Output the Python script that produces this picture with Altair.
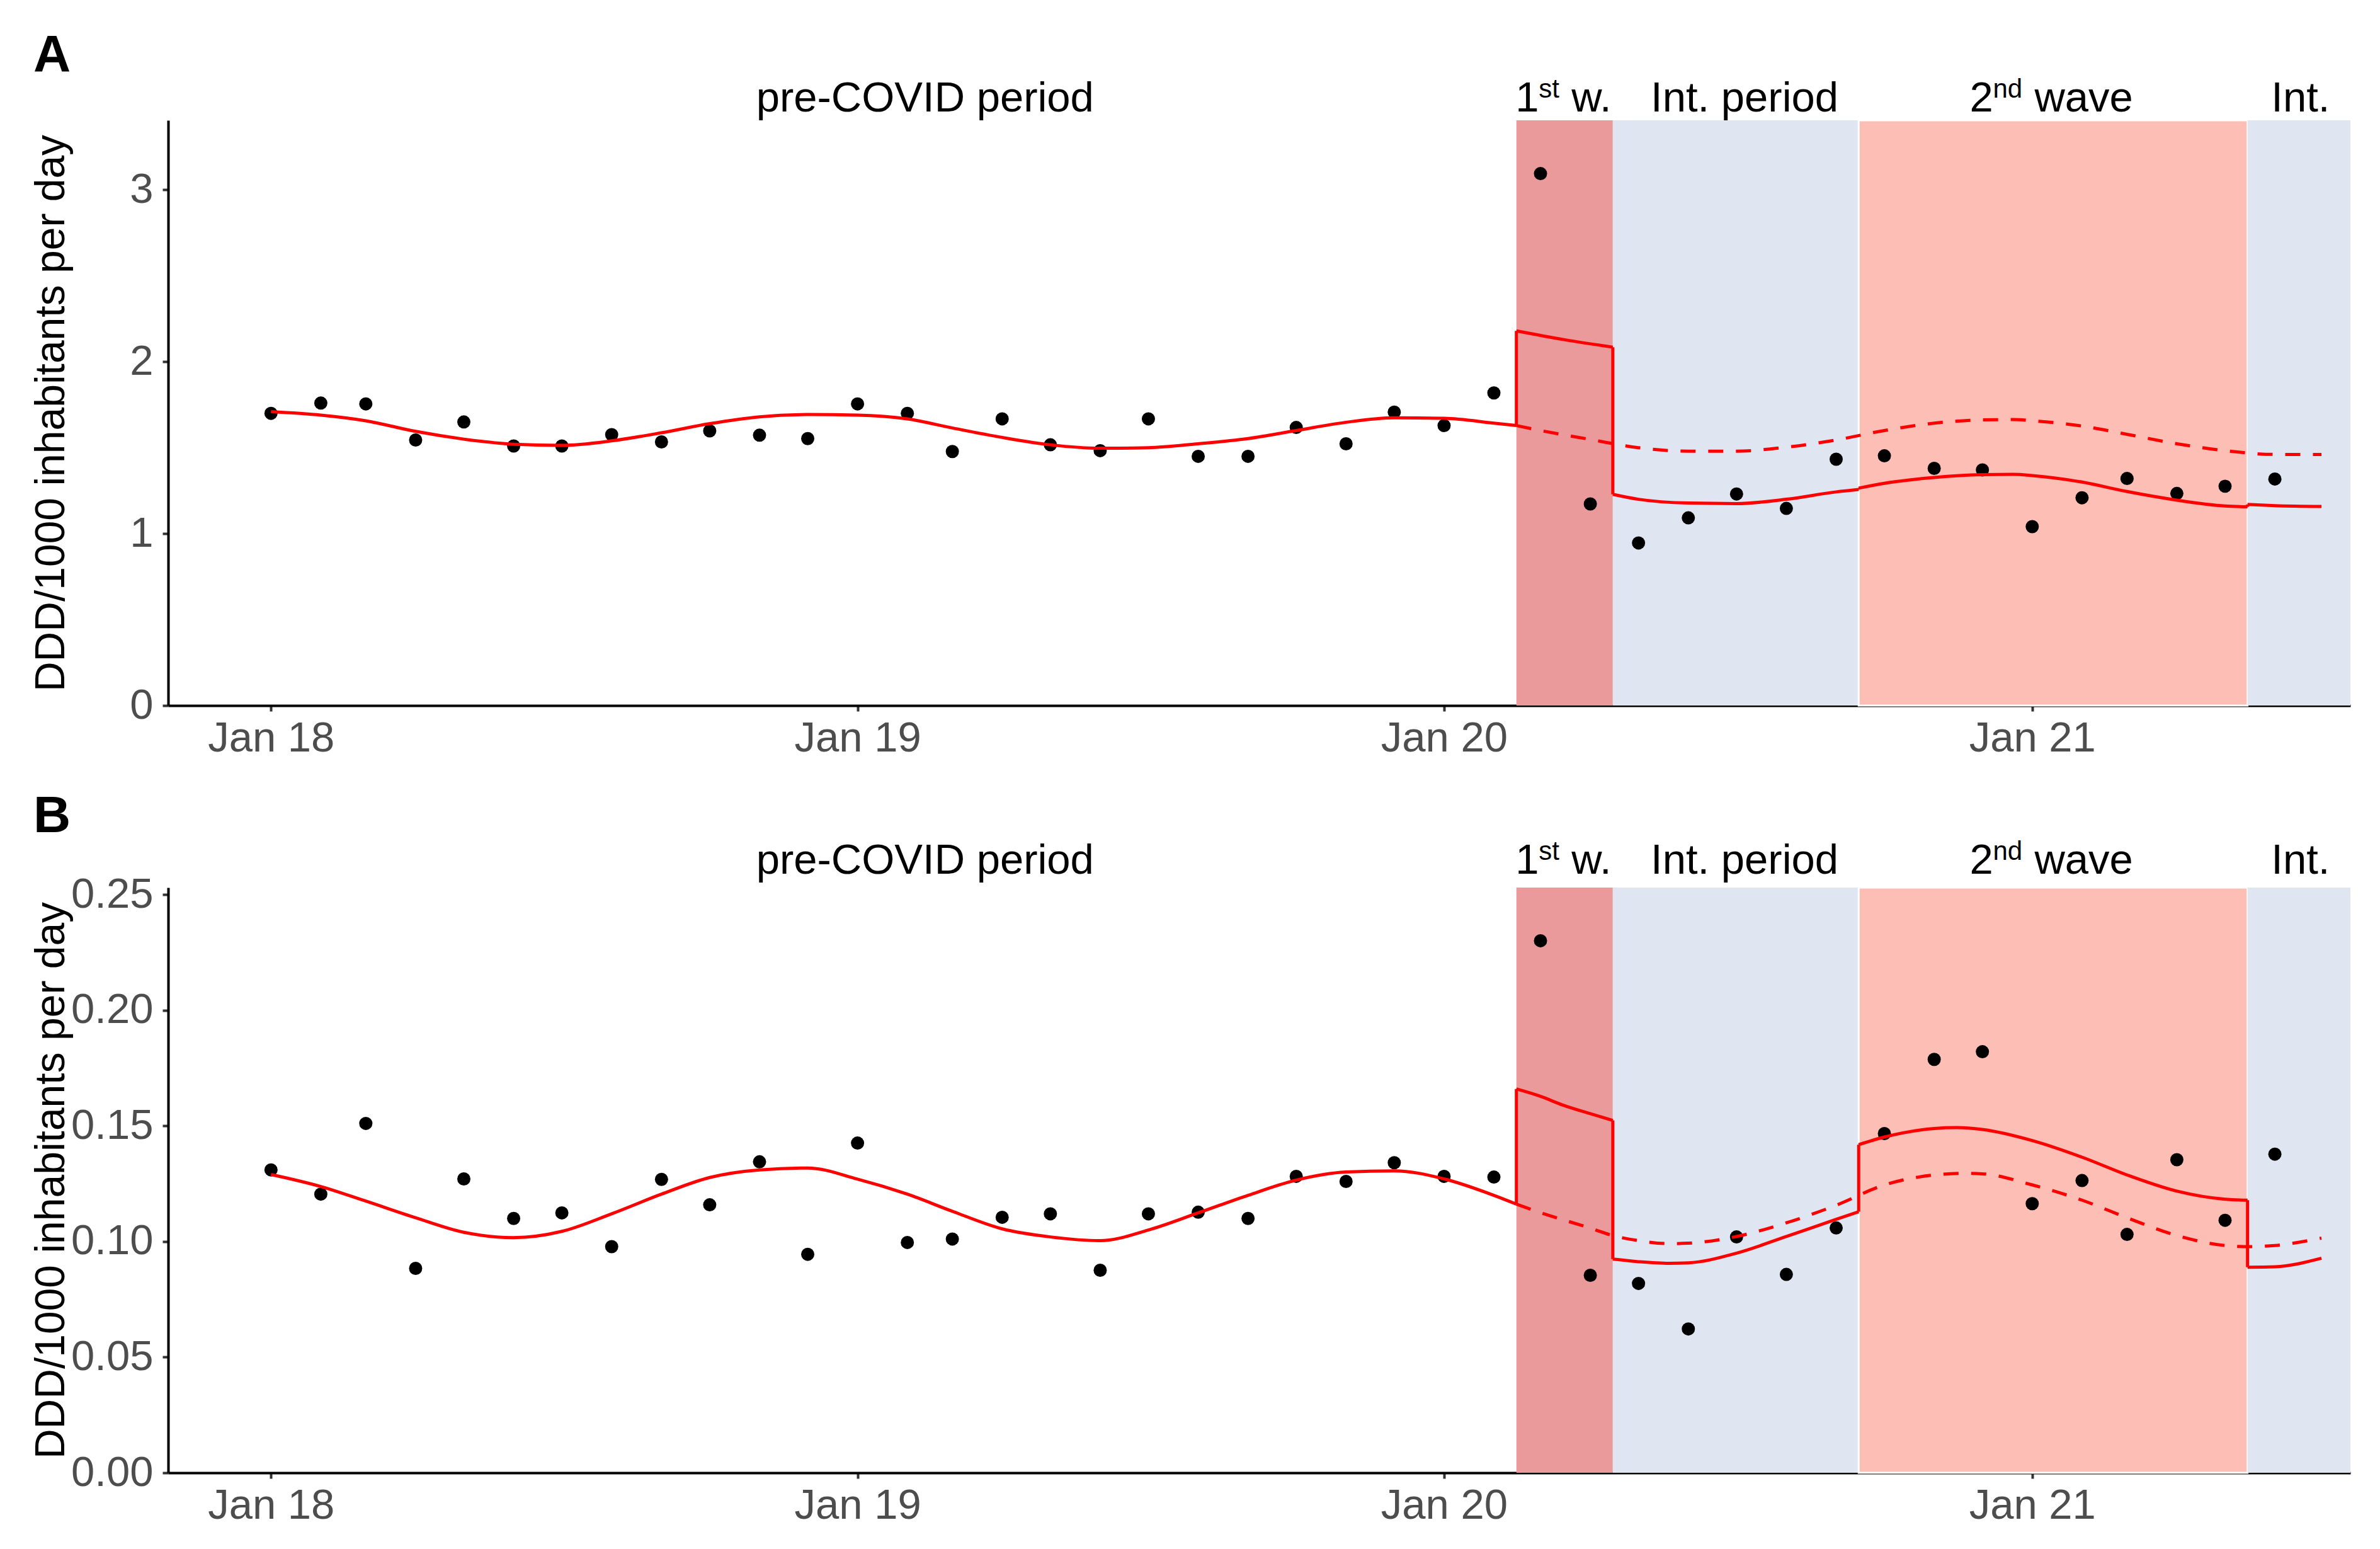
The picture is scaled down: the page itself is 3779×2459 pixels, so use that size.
import altair as alt
import pandas as pd

# ---------------- data ----------------
months = pd.date_range("2018-01-01", "2021-06-01", freq="MS")

obs_a = [1.70, 1.76, 1.755, 1.545, 1.65, 1.51, 1.51, 1.576, 1.534, 1.598, 1.573, 1.553,
         1.755, 1.70, 1.478, 1.668, 1.517, 1.483, 1.668, 1.450, 1.450, 1.618, 1.523, 1.707,
         1.629, 1.819, 3.095, 1.173, 0.946, 1.092, 1.231, 1.147, 1.433, 1.453, 1.380, 1.371,
         1.041, 1.209, 1.321, 1.234, 1.276, 1.318]

obs_b = [0.1310, 0.1205, 0.1511, 0.0884, 0.1271, 0.1100, 0.1124, 0.0978, 0.1269, 0.1159, 0.1345, 0.0945,
         0.1426, 0.0996, 0.1011, 0.1105, 0.1120, 0.0876, 0.1120, 0.1127, 0.1100, 0.1282, 0.1260, 0.1341,
         0.1282, 0.1279, 0.2301, 0.0854, 0.0819, 0.0622, 0.1020, 0.0858, 0.1059, 0.1467, 0.1788, 0.1821,
         0.1164, 0.1264, 0.1031, 0.1354, 0.1092, 0.1378]

# fitted model (solid line), per period
pre_dates = [d.strftime("%Y-%m-%d") for d in pd.date_range("2018-01-01", "2020-02-01", freq="MS")] + ["2020-02-15"]
pre_a = [1.71, 1.69, 1.657, 1.595, 1.55, 1.52, 1.514, 1.54, 1.587, 1.64, 1.68, 1.693,
         1.69, 1.668, 1.615, 1.56, 1.517, 1.497, 1.50, 1.523, 1.553, 1.60, 1.648, 1.674,
         1.671, 1.643, 1.629]
pre_b = [0.129, 0.1238, 0.1175, 0.1103, 0.1040, 0.1017, 0.1044, 0.112, 0.1205, 0.1277, 0.1310, 0.1318,
         0.127, 0.1205, 0.1131, 0.1055, 0.1020, 0.1004, 0.1050, 0.1124, 0.120, 0.1266, 0.1301, 0.1306,
         0.1271, 0.120, 0.1162]

w1_dates_a = ["2020-02-15", "2020-03-15", "2020-04-15"]
w1_a = [2.18, 2.13, 2.085]
w1_dates_b = ["2020-02-15", "2020-03-01", "2020-03-15", "2020-04-01", "2020-04-15"]
w1_b = [0.166, 0.1628, 0.159, 0.1553, 0.1524]

i1_dates_a = ["2020-04-15", "2020-05-01", "2020-06-01", "2020-07-01", "2020-08-01", "2020-09-01", "2020-09-15"]
i1_a = [1.229, 1.20, 1.178, 1.175, 1.20, 1.243, 1.257]
i1_dates_b = ["2020-04-15", "2020-05-01", "2020-05-20", "2020-06-01", "2020-07-01", "2020-08-01", "2020-09-01", "2020-09-15"]
i1_b = [0.0924, 0.0913, 0.0906, 0.0908, 0.095, 0.1022, 0.1096, 0.1129]

w2_dates_a = ["2020-09-15", "2020-10-01", "2020-11-01", "2020-12-01", "2020-12-20", "2021-01-01",
              "2021-02-01", "2021-03-01", "2021-04-01", "2021-05-01", "2021-05-15"]
w2_a = [1.265, 1.293, 1.327, 1.343, 1.345, 1.338, 1.30, 1.245, 1.195, 1.161, 1.156]
w2_dates_b = ["2020-09-15", "2020-10-01", "2020-11-01", "2020-11-15", "2020-12-01", "2021-01-01",
              "2021-02-01", "2021-03-01", "2021-04-01", "2021-05-01", "2021-05-15"]
w2_b = [0.1419, 0.1452, 0.1489, 0.1493, 0.1485, 0.1437, 0.1365, 0.1288, 0.1218, 0.1183, 0.1179]

i2_dates = ["2021-05-15", "2021-06-01", "2021-06-30"]
i2_a = [1.17, 1.163, 1.158]
i2_b = [0.0889, 0.0891, 0.0928]

# counterfactual (dashed line)
cf_dates_a = ["2020-02-15", "2020-03-01", "2020-04-01", "2020-05-01", "2020-06-01", "2020-07-01", "2020-08-01",
              "2020-09-01", "2020-10-01", "2020-11-01", "2020-12-01", "2020-12-20", "2021-01-01", "2021-02-01",
              "2021-03-01", "2021-04-01", "2021-05-01", "2021-06-01", "2021-06-30"]
cf_a = [1.629, 1.60, 1.548, 1.50, 1.48, 1.48, 1.503, 1.545, 1.60, 1.643, 1.662, 1.664, 1.657, 1.626,
        1.578, 1.523, 1.483, 1.461, 1.461]
cf_dates_b = ["2020-02-15", "2020-03-01", "2020-04-01", "2020-04-15", "2020-05-01", "2020-05-20", "2020-06-01",
              "2020-07-01", "2020-08-01", "2020-09-01", "2020-10-01", "2020-11-01", "2020-11-20", "2020-12-01",
              "2021-01-01", "2021-02-01", "2021-03-01", "2021-04-01", "2021-05-01", "2021-05-15", "2021-06-01",
              "2021-06-30"]
cf_b = [0.1162, 0.1125, 0.1058, 0.1026, 0.1004, 0.0991, 0.0993, 0.1022, 0.1081, 0.1157, 0.1245, 0.1288,
        0.1295, 0.1293, 0.1245, 0.1179, 0.1103, 0.1026, 0.0983, 0.0978, 0.0983, 0.1015]

# shaded periods
x_start, x_end = "2017-10-29", "2021-07-18"
period_start = ["2020-02-15", "2020-04-15", "2020-09-15", "2021-05-15"]
period_end = ["2020-04-15", "2020-09-15", "2021-05-15", x_end]
period_fill = ["#EA9A9A", "#DFE6F1", "#FDBEB5", "#DFE6F1"]
period_edge = [0, 0, 3, 0]

# period labels
label_pre_date, label_pre = "2019-02-12", "pre-COVID period"
label_w1_date = "2020-03-16"
label_i1_date, label_i1 = "2020-07-06", "Int. period"
label_w2_date = "2021-01-13"
label_i2_date, label_i2 = "2021-06-17", "Int."

x_ticks = ["2018-01-01", "2019-01-01", "2020-01-01", "2021-01-01"]
y_title = "DDD/1000 inhabitants per day"

FONT = "Liberation Sans"
W, H = 3465, 929


def dt(s):
    t = pd.Timestamp(s)
    return alt.DateTime(year=t.year, month=t.month, date=t.day)


def make_panel(obs, segs, cf_dates, cf_vals, ymax, yticks, yfmt, letter, letter_y, label_y):
    xsc = alt.Scale(domain=[dt(x_start), dt(x_end)])
    xax = alt.Axis(title=None, values=[dt(s) for s in x_ticks], format="%b %y", labelFlush=False,
                   labelPadding=10, labelLimit=0)
    ysc = alt.Scale(domain=[0, ymax], nice=False, zero=True)
    yax = alt.Axis(title=y_title, values=yticks, format=yfmt, labelFlush=False, labelPadding=15,
                   minExtent=150, maxExtent=150, titlePadding=2, labelLimit=0)

    rect_df = pd.DataFrame({"start": pd.to_datetime(period_start), "end": pd.to_datetime(period_end),
                            "fill": period_fill, "edge": period_edge})
    rects = alt.Chart(rect_df).mark_rect(stroke="white").encode(
        x=alt.X("start:T", scale=xsc, axis=xax),
        x2="end:T",
        fill=alt.Fill("fill:N", scale=None),
        strokeWidth=alt.StrokeWidth("edge:Q", scale=None),
    )

    pts_df = pd.DataFrame({"date": months, "v": obs})
    pts = alt.Chart(pts_df).mark_circle(size=440, color="black", opacity=1).encode(
        x=alt.X("date:T", scale=xsc, axis=xax),
        y=alt.Y("v:Q", scale=ysc, axis=yax),
    )

    rows = []
    for i, (dates, vals) in enumerate(segs):
        for d, v in zip(dates, vals):
            rows.append({"seg": i, "date": pd.Timestamp(d), "v": v})
    seg_df = pd.DataFrame(rows)
    fit = alt.Chart(seg_df).mark_line(color="#FF0000", strokeWidth=5, interpolate="monotone").encode(
        x=alt.X("date:T", scale=xsc, axis=xax),
        y=alt.Y("v:Q", scale=ysc, axis=yax),
        detail="seg:N",
    )

    jumps = []
    for (d1, v1), (d2, v2) in zip(segs[:-1], segs[1:]):
        jumps.append({"date": pd.Timestamp(d1[-1]), "v": v1[-1], "v2": v2[0]})
    jump_df = pd.DataFrame(jumps)
    rules = alt.Chart(jump_df).mark_rule(color="#FF0000", strokeWidth=5).encode(
        x=alt.X("date:T", scale=xsc, axis=xax),
        y=alt.Y("v:Q", scale=ysc, axis=yax),
        y2="v2:Q",
    )

    cf_df = pd.DataFrame({"date": pd.to_datetime(cf_dates), "v": cf_vals})
    cf = alt.Chart(cf_df).mark_line(color="#FF0000", strokeWidth=5, strokeDash=[24, 20],
                                    interpolate="monotone").encode(
        x=alt.X("date:T", scale=xsc, axis=xax),
        y=alt.Y("v:Q", scale=ysc, axis=yax),
    )

    def lab(date, text, dx=0, dy=0, size=67, align="center"):
        df = pd.DataFrame({"date": [pd.Timestamp(date)], "t": [text]})
        return alt.Chart(df).mark_text(font=FONT, fontSize=size, color="black", align=align,
                                       baseline="alphabetic", dx=dx, dy=dy).encode(
            x=alt.X("date:T", scale=xsc, axis=xax),
            y=alt.value(label_y),
            text="t:N",
        )

    labels = [
        lab(label_pre_date, label_pre),
        lab(label_w1_date, "1", dx=-78, align="left"),
        lab(label_w1_date, "st", dx=-41, dy=-22, size=42, align="left"),
        lab(label_w1_date, "w.", dx=11, align="left"),
        lab(label_i1_date, label_i1),
        lab(label_w2_date, "2", dx=-130, align="left"),
        lab(label_w2_date, "nd", dx=-93, dy=-22, size=42, align="left"),
        lab(label_w2_date, "wave", dx=-27, align="left"),
        lab(label_i2_date, label_i2),
    ]

    letter_df = pd.DataFrame({"t": [letter]})
    letter_mark = alt.Chart(letter_df).mark_text(font=FONT, fontSize=82, fontWeight="bold", color="black",
                                                 align="left", baseline="alphabetic").encode(
        x=alt.value(-214), y=alt.value(letter_y), text="t:N")

    return alt.layer(rects, pts, fit, rules, cf, *labels, letter_mark).properties(width=W, height=H)


panel_a = make_panel(obs_a,
                     [(pre_dates, pre_a), (w1_dates_a, w1_a), (i1_dates_a, i1_a), (w2_dates_a, w2_a), (i2_dates, i2_a)],
                     cf_dates_a, cf_a, 3.405, [0, 1, 2, 3], ".0f", "A", -78, -14)
panel_b = make_panel(obs_b,
                     [(pre_dates, pre_b), (w1_dates_b, w1_b), (i1_dates_b, i1_b), (w2_dates_b, w2_b), (i2_dates, i2_b)],
                     cf_dates_b, cf_b, 0.2531, [0, 0.05, 0.10, 0.15, 0.20, 0.25], ".2f", "B", -88, -22)

chart = alt.vconcat(panel_a, panel_b, spacing=50).properties(
    padding={"left": 40, "top": 39, "right": 5, "bottom": 5}
).configure_view(stroke=None).configure_axis(
    grid=False,
    domainColor="black", domainWidth=4,
    tickColor="#333333", tickWidth=4, tickSize=9,
    labelFont=FONT, labelFontSize=67, labelColor="#4D4D4D", labelOverlap=False,
    titleFont=FONT, titleFontSize=66, titleFontWeight="normal", titleColor="black",
)

chart.save("out.html", embed_options={"renderer": "svg", "actions": False})
